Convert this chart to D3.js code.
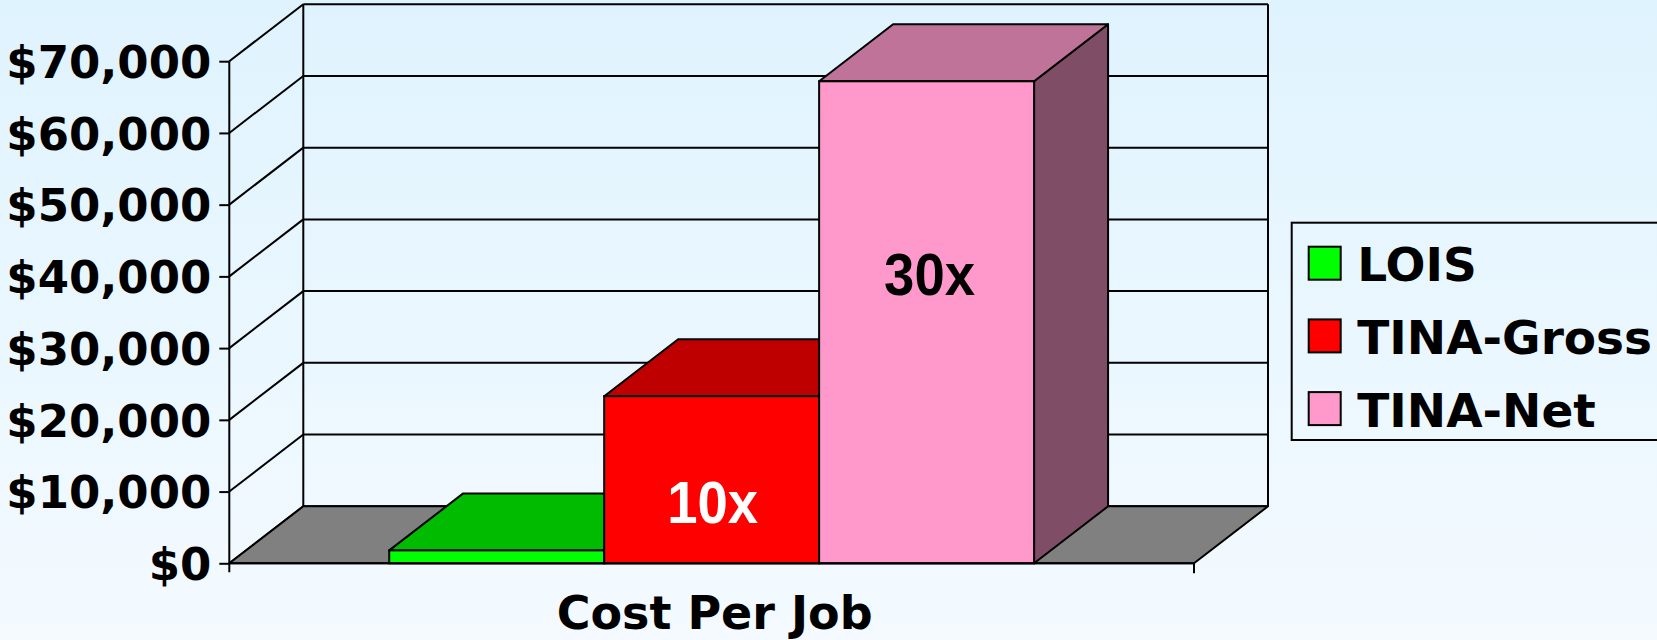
<!DOCTYPE html>
<html>
<head>
<meta charset="utf-8">
<script src="https://cdn.jsdelivr.net/npm/d3@7"></script>
<style>
  html, body { margin: 0; padding: 0; }
  body { width: 1657px; height: 640px; overflow: hidden; }
  svg { display: block; }
</style>
</head>
<body>
<svg id="chart" width="1657" height="640"></svg>
<script>
// Cost per job, one category with three series drawn as 3-D columns
const categories = ["Cost Per Job"];
const seriesNames = ["LOIS", "TINA-Gross", "TINA-Net"];
const seriesValues = [1800, 23300, 67200];
const tickValues = [0, 10000, 20000, 30000, 40000, 50000, 60000, 70000];
const barLabels = ["", "10x", "30x"];

const frontColors = ["#00ff00", "#ff0000", "#ff99cc"];
const topColors = ["#00bb00", "#bf0000", "#bf7399"];
const sideColors = ["#008000", "#800000", "#804d66"];

const svg = d3.select("#chart");
const W = 1657, H = 640;

// background gradient
const defs = svg.append("defs");
const grad = defs.append("linearGradient").attr("id", "bg")
  .attr("x1", 0).attr("y1", 0).attr("x2", 0).attr("y2", 1);
grad.append("stop").attr("offset", "0%").attr("stop-color", "#dff3fe");
grad.append("stop").attr("offset", "100%").attr("stop-color", "#f4faff");
svg.append("rect").attr("width", W).attr("height", H).attr("fill", "url(#bg)");

// plot frame: front plane and depth offset
const left = 229.3, right = 1194;
const dx = 74, dy = -57;

const y = d3.scaleLinear().domain([0, 70000]).range([563.3, 61.2]);
const x0 = d3.scaleBand().domain(categories).range([left, right])
  .paddingInner(0).paddingOuter(0.248);
const x1 = d3.scaleBand().domain(seriesNames).range([0, x0.bandwidth()]);

const lineColor = "#000";
const g = svg.append("g");

// side wall gridlines (front axis to back wall)
g.selectAll("line.side").data(tickValues).join("line")
  .attr("x1", left).attr("y1", d => y(d))
  .attr("x2", left + dx).attr("y2", d => y(d) + dy)
  .attr("stroke", lineColor).attr("stroke-width", 2);

// back wall gridlines
g.selectAll("line.back").data(tickValues).join("line")
  .attr("x1", left + dx).attr("y1", d => y(d) + dy)
  .attr("x2", right + dx).attr("y2", d => y(d) + dy)
  .attr("stroke", lineColor).attr("stroke-width", 2);

// back wall edges
const yTop = y(70000) + dy, yBack0 = y(0) + dy;
g.append("line").attr("x1", left + dx).attr("x2", left + dx)
  .attr("y1", yTop).attr("y2", yBack0).attr("stroke", lineColor).attr("stroke-width", 2);
g.append("line").attr("x1", right + dx).attr("x2", right + dx)
  .attr("y1", yTop).attr("y2", yBack0).attr("stroke", lineColor).attr("stroke-width", 2);

// floor
const floorPts = [[left, y(0)], [right, y(0)], [right + dx, y(0) + dy], [left + dx, y(0) + dy]];
g.append("polygon").attr("points", floorPts.map(p => p.join(",")).join(" "))
  .attr("fill", "#808080").attr("stroke", lineColor).attr("stroke-width", 2)
  .attr("stroke-linejoin", "round");

// columns
const bars = seriesNames.map((s, i) => ({ name: s, value: seriesValues[i], i }));
const barG = g.selectAll("g.bar").data(bars).join("g");
const pts = a => a.map(p => p.join(",")).join(" ");
barG.each(function(d) {
  const bx = x0(categories[0]) + x1(d.name);
  const bw = x1.bandwidth();
  const yt = y(d.value), yb = y(0);
  const sel = d3.select(this);
  // right side face
  sel.append("polygon")
    .attr("points", pts([[bx + bw, yb], [bx + bw + dx, yb + dy], [bx + bw + dx, yt + dy], [bx + bw, yt]]))
    .attr("fill", sideColors[d.i]).attr("stroke", lineColor).attr("stroke-width", 2)
    .attr("stroke-linejoin", "round");
  // top face
  sel.append("polygon")
    .attr("points", pts([[bx, yt], [bx + dx, yt + dy], [bx + bw + dx, yt + dy], [bx + bw, yt]]))
    .attr("fill", topColors[d.i]).attr("stroke", lineColor).attr("stroke-width", 2)
    .attr("stroke-linejoin", "round");
  // front face
  sel.append("rect").attr("x", bx).attr("y", yt).attr("width", bw).attr("height", yb - yt)
    .attr("fill", frontColors[d.i]).attr("stroke", lineColor).attr("stroke-width", 2);
});

// bar annotations
const labelOffsets = [0, 40, 268.6];
const labelColors = ["#000", "#fff", "#000"];
const labelShift = [0, 1, 3];
barG.filter(d => barLabels[d.i] !== "").append("text")
  .attr("x", d => x0(categories[0]) + x1(d.name) + x1.bandwidth() / 2 + labelShift[d.i])
  .attr("y", d => y(0) - labelOffsets[d.i])
  .attr("text-anchor", "middle")
  .attr("font-family", "'Liberation Sans', Arial, sans-serif")
  .attr("font-weight", "bold")
  .attr("font-size", 59)
  .attr("textLength", 91)
  .attr("lengthAdjust", "spacingAndGlyphs")
  .attr("fill", d => labelColors[d.i])
  .text(d => barLabels[d.i]);

// y axis
const axis = d3.axisLeft(y).tickValues(tickValues).tickSize(10).tickPadding(8)
  .tickFormat(d => "$" + d3.format(",")(d));
const ax = svg.append("g").attr("transform", `translate(${left},0)`).call(axis);
ax.select(".domain").remove();
ax.selectAll(".tick line").attr("stroke", lineColor).attr("stroke-width", 2);
ax.selectAll(".tick text")
  .attr("font-family", "'DejaVu Sans', Verdana, sans-serif")
  .attr("font-weight", "bold").attr("font-size", 45).attr("fill", "#000")
  .attr("dy", "0.36em");
svg.append("line").attr("x1", left).attr("x2", left)
  .attr("y1", y(70000)).attr("y2", y(0) + 9)
  .attr("stroke", lineColor).attr("stroke-width", 2);

// category axis line with end tick
svg.append("line").attr("x1", left).attr("x2", right)
  .attr("y1", y(0)).attr("y2", y(0)).attr("stroke", lineColor).attr("stroke-width", 2);
svg.append("line").attr("x1", right).attr("x2", right)
  .attr("y1", y(0)).attr("y2", y(0) + 10).attr("stroke", lineColor).attr("stroke-width", 2);

// category label
svg.append("text")
  .attr("x", x0(categories[0]) + x0.bandwidth() / 2 + 3)
  .attr("y", 629)
  .attr("text-anchor", "middle")
  .attr("font-family", "'DejaVu Sans', Verdana, sans-serif")
  .attr("font-weight", "bold").attr("font-size", 46).attr("fill", "#000")
  .text(categories[0]);

// legend
const lg = svg.append("g");
lg.append("rect").attr("x", 1291.7).attr("y", 222.7).attr("width", 420).attr("height", 217.3)
  .attr("fill", "none").attr("stroke", lineColor).attr("stroke-width", 2);
const li = lg.selectAll("g.item").data(seriesNames).join("g")
  .attr("transform", (d, i) => `translate(1308.7, ${246.7 + i * 72.7})`);
li.append("rect").attr("width", 32).attr("height", 33)
  .attr("fill", (d, i) => frontColors[i]).attr("stroke", lineColor).attr("stroke-width", 2);
li.append("text").attr("x", 48.6).attr("y", 34.5)
  .attr("font-family", "'DejaVu Sans', Verdana, sans-serif")
  .attr("font-weight", "bold").attr("font-size", 47).attr("fill", "#000")
  .text(d => d);
</script>
</body>
</html>
